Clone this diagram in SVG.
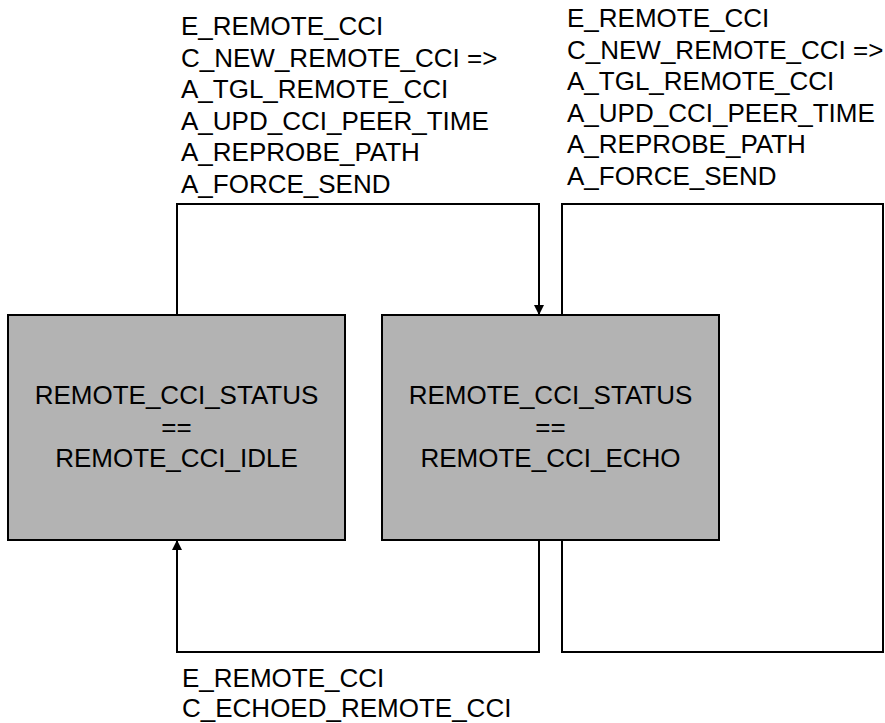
<svg xmlns="http://www.w3.org/2000/svg" width="885" height="723" viewBox="0 0 885 723">
<style>
text{font-family:"Liberation Sans",Arial,sans-serif;font-size:26px;fill:#000}
.node rect{fill:#b3b3b3;stroke:#000;stroke-width:2}
.node text{text-anchor:middle}
.edge{fill:none;stroke:#000;stroke-width:2}
</style>
<defs>
<marker id="arr" viewBox="0 0 10 10" refX="10" refY="5" markerWidth="10" markerHeight="10" markerUnits="userSpaceOnUse" orient="auto">
<path d="M0,0 L10,5 L0,10 z" fill="#000"/>
</marker>
</defs>
<g id="connectors">
<path class="edge" d="M177,315 V204 H539 V315" marker-end="url(#arr)"/>
<path class="edge" d="M562,315 V204 H883 V652 H562 V540"/>
<path class="edge" d="M539,540 V652 H177 V540" marker-end="url(#arr)"/>
</g>
<g id="node-idle" class="node">
<rect x="8" y="315" width="337" height="225"/>
<text x="176.5" y="404">REMOTE_CCI_STATUS</text>
<text x="176.5" y="436">==</text>
<text x="176.5" y="467">REMOTE_CCI_IDLE</text>
</g>
<g id="node-echo" class="node">
<rect x="382" y="315" width="337" height="225"/>
<text x="550.5" y="404">REMOTE_CCI_STATUS</text>
<text x="550.5" y="436">==</text>
<text x="550.5" y="467">REMOTE_CCI_ECHO</text>
</g>
<g id="label-idle-echo">
<text x="181" y="35">E_REMOTE_CCI</text>
<text x="181" y="66.6">C_NEW_REMOTE_CCI =&gt;</text>
<text x="181" y="98.2">A_TGL_REMOTE_CCI</text>
<text x="181" y="129.8">A_UPD_CCI_PEER_TIME</text>
<text x="181" y="161.4">A_REPROBE_PATH</text>
<text x="181" y="193">A_FORCE_SEND</text>
</g>
<g id="label-echo-self">
<text x="567" y="27">E_REMOTE_CCI</text>
<text x="567" y="58.6">C_NEW_REMOTE_CCI =&gt;</text>
<text x="567" y="90.2">A_TGL_REMOTE_CCI</text>
<text x="567" y="121.8">A_UPD_CCI_PEER_TIME</text>
<text x="567" y="153.4">A_REPROBE_PATH</text>
<text x="567" y="185">A_FORCE_SEND</text>
</g>
<g id="label-echo-idle">
<text x="182" y="687">E_REMOTE_CCI</text>
<text x="182" y="717">C_ECHOED_REMOTE_CCI</text>
</g>
</svg>
